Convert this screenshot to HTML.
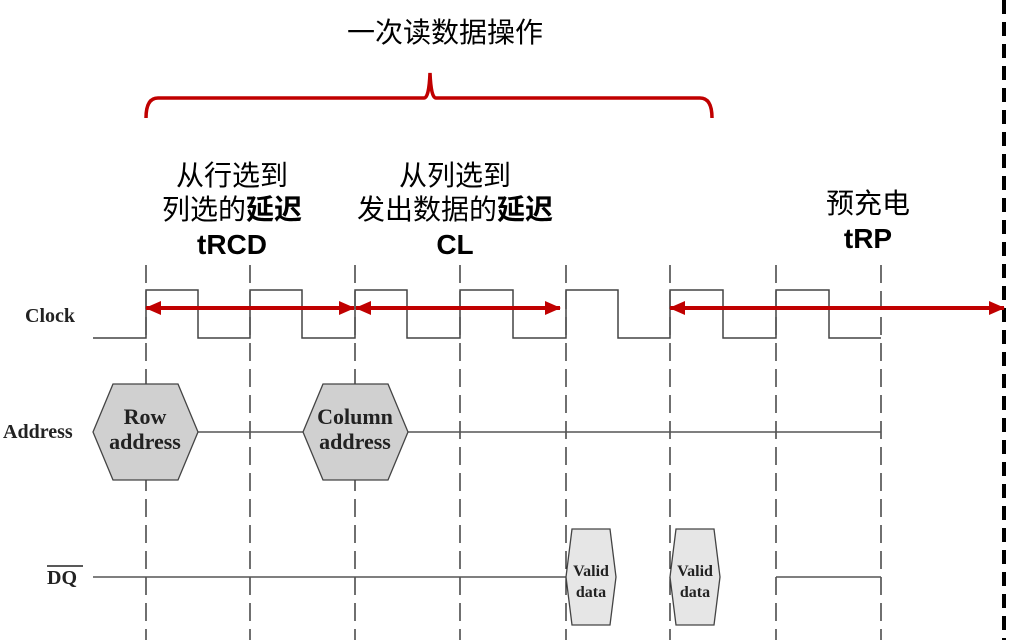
<!DOCTYPE html>
<html><head><meta charset="utf-8"><style>
body{margin:0;background:#fff;width:1017px;height:640px;overflow:hidden}
svg{display:block}
.cn{font-family:"Liberation Sans","Noto Sans CJK SC",sans-serif;font-size:28px;fill:#000;text-anchor:middle}
.lb{font-family:"Liberation Serif",serif;font-weight:bold;font-size:20px;fill:#222}
.hx{font-family:"Liberation Serif",serif;font-weight:bold;font-size:22px;fill:#222;text-anchor:middle}
.hs{font-family:"Liberation Serif",serif;font-weight:bold;font-size:16px;fill:#222;text-anchor:middle}
</style></head><body>
<svg width="1017" height="640" viewBox="0 0 1017 640">
<defs>
<marker id="a" markerWidth="16" markerHeight="14" refX="15" refY="7" orient="auto-start-reverse" markerUnits="userSpaceOnUse" viewBox="0 0 16 14"><path d="M0,0L16,7L0,14z" fill="#c00000"/></marker>
</defs>
<text class="cn" x="445" y="42">一次读数据操作</text>
<path d="M146,118 Q146,98 158,98 L424,98 Q429,98 430,73 Q431,98 436,98 L700,98 Q712,98 712,118" fill="none" stroke="#c00000" stroke-width="3.5"/>
<text class="cn" x="232" y="185">从行选到</text>
<text class="cn" x="232" y="219">列选的<tspan font-weight="bold">延迟</tspan></text>
<text class="cn" x="232" y="254" font-weight="bold">tRCD</text>
<text class="cn" x="455" y="185">从列选到</text>
<text class="cn" x="455" y="219">发出数据的<tspan font-weight="bold">延迟</tspan></text>
<text class="cn" x="455" y="254" font-weight="bold">CL</text>
<text class="cn" x="868" y="213">预充电</text>
<text class="cn" x="868" y="248" font-weight="bold">tRP</text>
<g stroke="#222" stroke-width="1.3" stroke-dasharray="18,8">
<line x1="146" y1="265" x2="146" y2="640"/><line x1="250" y1="265" x2="250" y2="640"/>
<line x1="355" y1="265" x2="355" y2="640"/><line x1="460" y1="265" x2="460" y2="640"/>
<line x1="566" y1="265" x2="566" y2="640"/><line x1="670" y1="265" x2="670" y2="640"/>
<line x1="776" y1="265" x2="776" y2="640"/><line x1="881" y1="265" x2="881" y2="640"/>
</g>
<line x1="1004" y1="0" x2="1004" y2="640" stroke="#000" stroke-width="4" stroke-dasharray="14,8"/>
<path d="M93,338H146V290H198V338H250V290H302V338H355V290H407V338H460V290H513V338H566V290H618V338H670V290H723V338H776V290H829V338H881" fill="none" stroke="#444" stroke-width="1.5"/>
<g stroke="#c00000" stroke-width="4" marker-start="url(#a)" marker-end="url(#a)">
<line x1="146" y1="308" x2="354" y2="308"/>
<line x1="356" y1="308" x2="560" y2="308"/>
<line x1="670" y1="308" x2="1004" y2="308"/>
</g>
<text class="lb" x="25" y="322">Clock</text>
<text class="lb" x="3" y="438">Address</text>
<text class="lb" x="47" y="584">DQ</text>
<line x1="47" y1="566" x2="83" y2="566" stroke="#222" stroke-width="1.5"/>
<g stroke="#555" stroke-width="1.5">
<line x1="198" y1="432" x2="303" y2="432"/><line x1="408" y1="432" x2="881" y2="432"/>
<line x1="93" y1="577" x2="566" y2="577"/><line x1="776" y1="577" x2="881" y2="577"/>
</g>
<polygon points="93,432 113,384 178,384 198,432 178,480 113,480" fill="#d0d0d0" stroke="#444" stroke-width="1.3"/>
<polygon points="303,432 323,384 388,384 408,432 388,480 323,480" fill="#d0d0d0" stroke="#444" stroke-width="1.3"/>
<text class="hx" x="145" y="424">Row</text><text class="hx" x="145" y="449">address</text>
<text class="hx" x="355" y="424">Column</text><text class="hx" x="355" y="449">address</text>
<polygon points="566,577 572,529 610,529 616,577 610,625 572,625" fill="#e6e6e6" stroke="#444" stroke-width="1.3"/>
<polygon points="670,577 676,529 714,529 720,577 714,625 676,625" fill="#e6e6e6" stroke="#444" stroke-width="1.3"/>
<text class="hs" x="591" y="576">Valid</text><text class="hs" x="591" y="597">data</text>
<text class="hs" x="695" y="576">Valid</text><text class="hs" x="695" y="597">data</text>
</svg>
</body></html>
